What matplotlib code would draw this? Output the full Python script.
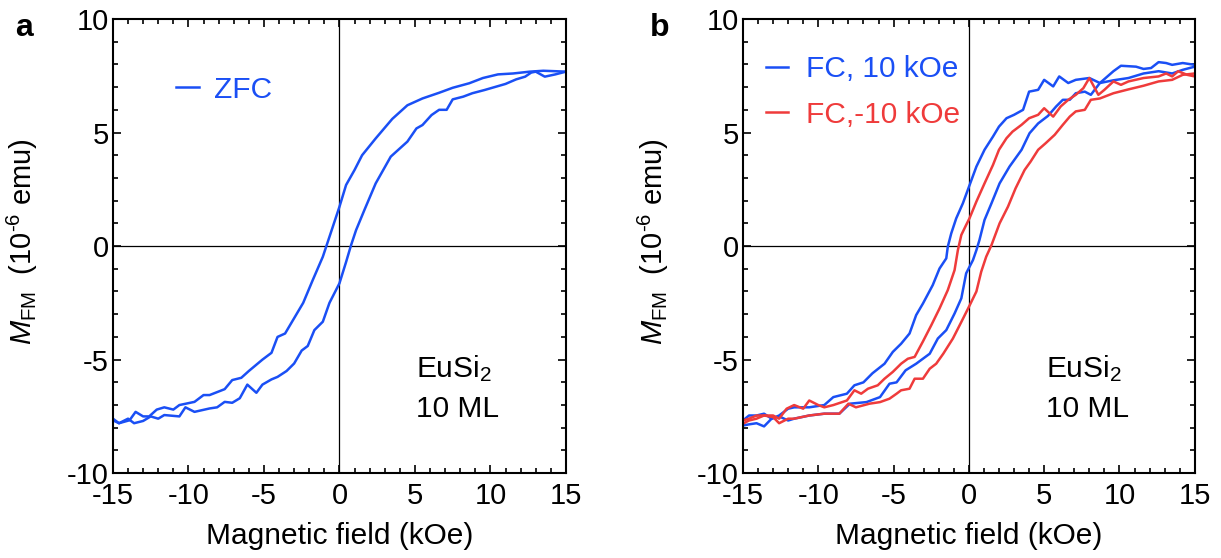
import matplotlib
matplotlib.use("Agg")
import matplotlib.pyplot as plt
from matplotlib.ticker import MultipleLocator

plt.rcParams["font.family"] = ["Liberation Sans", "DejaVu Sans"]
plt.rcParams["mathtext.fontset"] = "custom"
plt.rcParams["mathtext.rm"] = "Liberation Sans"
plt.rcParams["mathtext.it"] = "Liberation Sans:italic"
plt.rcParams["axes.unicode_minus"] = False

# ---- panel a: zero-field-cooled loop (field in kOe, moment in 1e-6 emu)
zfc_down_x = [-15, -14.6, -13.9, -13.5, -13.0, -12.6, -12.1, -11.6, -11.0, -10.6,
              -9.6, -9.0, -8.6, -7.6, -7.1, -6.5, -6.0, -5.1, -4.5, -4.1,
              -3.6, -3.2, -2.4, -1.77, -1.1, -0.88, -0.44, 0, 0.44, 1.0,
              1.5, 2.4, 3.5, 4.5, 5.5, 6.6, 7.5, 8.6, 9.5, 10.5,
              11.5, 12.6, 13.5, 14.3, 15]
zfc_down_m = [-7.67, -7.8, -7.67, -7.3, -7.5, -7.5, -7.2, -7.1, -7.2, -7.0,
              -6.86, -6.56, -6.56, -6.3, -5.9, -5.8, -5.5, -5.0, -4.7, -4.0,
              -3.85, -3.4, -2.5, -1.5, -0.47, -0.03, 0.85, 1.73, 2.69, 3.35,
              4.0, 4.74, 5.6, 6.2, 6.5, 6.75, 6.97, 7.17, 7.4, 7.56,
              7.6, 7.68, 7.72, 7.7, 7.68]
zfc_up_x = [-15, -14.6, -14.0, -13.6, -13.0, -12.5, -12.0, -11.6, -10.6, -10.2,
            -9.6, -8.6, -8.1, -7.6, -7.1, -6.6, -6.1, -5.5, -5.1, -4.5,
            -4.1, -3.5, -3.0, -2.5, -2.1, -1.66, -1.1, -0.66, 0, 0.44,
            0.77, 1.1, 1.66, 2.4, 3.4, 4.0, 4.5, 5.1, 5.5, 6.1,
            6.6, 7.1, 7.5, 8.2, 8.8, 9.6, 11.0, 11.7, 12.3, 12.7,
            13.0, 13.6, 14.3, 15]
zfc_up_m = [-7.6, -7.8, -7.6, -7.8, -7.7, -7.5, -7.6, -7.44, -7.5, -7.1,
            -7.3, -7.15, -7.1, -6.86, -6.9, -6.7, -6.1, -6.46, -6.1, -5.87,
            -5.76, -5.5, -5.17, -4.6, -4.4, -3.7, -3.33, -2.5, -1.64, -0.7,
            0.04, 0.7, 1.6, 2.76, 3.94, 4.3, 4.6, 5.18, 5.33, 5.77,
            6.0, 6.0, 6.46, 6.58, 6.73, 6.87, 7.14, 7.34, 7.46, 7.64,
            7.68, 7.46, 7.56, 7.68]

# ---- panel b: field-cooled in +10 kOe
fcp_down_x = [-15, -14.6, -14.1, -13.6, -13.1, -12.6, -12.0, -11.6, -10.6, -9.6,
              -9.0, -8.1, -7.6, -7.0, -6.4, -5.6, -5.05, -4.5, -3.94, -3.5,
              -3.05, -2.4, -1.95, -1.5, -1.4, -1.17, -0.84, -0.4, 0, 0.5,
              1.04, 1.6, 2.0, 2.5, 3.0, 3.6, 4.0, 4.6, 5.0, 5.6,
              6.0, 6.6, 7.1, 8.0, 8.7, 9.6, 10.1, 11.1, 11.6, 12.1,
              12.6, 13.1, 13.5, 14.2, 15]
fcp_down_m = [-7.68, -7.46, -7.46, -7.38, -7.6, -7.46, -7.16, -7.1, -7.1, -7.0,
              -6.65, -6.5, -6.13, -6.0, -5.6, -5.18, -4.66, -4.3, -3.85, -3.04,
              -2.53, -1.72, -0.99, -0.54, -0.03, 0.56, 1.22, 1.88, 2.6, 3.5,
              4.24, 4.82, 5.26, 5.63, 5.78, 6.0, 6.8, 6.88, 7.32, 7.03,
              7.47, 7.18, 7.32, 7.4, 7.18, 7.7, 7.94, 7.9, 7.8, 7.84,
              8.1, 8.06, 7.98, 8.06, 7.98]
fcp_up_x = [-15, -14.6, -14.1, -13.6, -13.1, -12.6, -12.0, -11.6, -10.6, -9.6,
            -8.6, -7.9, -6.8, -5.9, -5.27, -4.8, -4.2, -3.5, -2.6, -2.06,
            -1.5, -0.95, -0.5, -0.18, 0.27, 0.5, 0.7, 1.04, 1.5, 2.04,
            2.7, 3.5, 4.03, 4.6, 5.25, 5.8, 6.24, 6.7, 7.1, 7.7,
            8.1, 8.7, 9.6, 10.6, 11.6, 12.6, 13.5, 14.2, 15]
fcp_up_m = [-7.9, -7.85, -7.8, -7.94, -7.6, -7.5, -7.68, -7.6, -7.46, -7.38,
            -7.38, -6.94, -6.87, -6.65, -6.06, -6.0, -5.47, -5.18, -4.74, -4.07,
            -3.7, -2.97, -2.3, -1.2, -0.62, -0.18, 0.26, 1.15, 1.88, 2.76,
            3.5, 4.24, 4.97, 5.4, 5.73, 6.15, 6.44, 6.44, 6.73, 6.8,
            6.66, 7.18, 7.3, 7.4, 7.6, 7.7, 7.6, 7.76, 7.9]

# ---- panel b: field-cooled in -10 kOe
fcn_down_x = [-15, -14.6, -14.1, -13.6, -13.0, -12.6, -12.1, -11.6, -11.0, -10.6,
              -10.0, -9.6, -9.0, -8.1, -7.6, -7.15, -6.7, -6.05, -5.6, -5.05,
              -4.5, -4.05, -3.6, -3.05, -2.5, -1.95, -1.4, -0.95, -0.73, -0.5,
              -0.18, 0.04, 0.5, 1.04, 1.6, 2.0, 2.5, 2.9, 3.5, 4.0,
              4.6, 5.0, 5.6, 6.1, 6.6, 7.1, 7.6, 8.0, 8.6, 9.0,
              9.6, 10.1, 10.6, 11.6, 12.6, 13.1, 13.5, 13.9, 14.5, 15]
fcn_down_m = [-7.68, -7.6, -7.46, -7.46, -7.46, -7.6, -7.16, -7.0, -7.16, -6.8,
              -7.0, -7.1, -7.0, -6.8, -6.35, -6.5, -6.28, -6.13, -5.84, -5.54,
              -5.18, -4.96, -4.88, -4.2, -3.49, -2.75, -1.94, -1.06, -0.18, 0.49,
              0.93, 1.22, 1.96, 2.76, 3.57, 4.24, 4.75, 5.04, 5.34, 5.63,
              5.78, 6.07, 5.7, 6.15, 6.44, 6.66, 6.95, 7.4, 6.66, 6.88,
              7.25, 7.1, 7.25, 7.4, 7.47, 7.6, 7.47, 7.7, 7.54, 7.47]
fcn_up_x = [-15, -14.6, -14.1, -13.6, -13.0, -12.6, -12.0, -11.6, -10.6, -9.6,
            -8.6, -8.0, -7.5, -6.6, -5.9, -5.27, -4.8, -4.5, -3.94, -3.6,
            -3.05, -2.6, -2.17, -1.7, -1.06, -0.5, 0, 0.5, 0.82, 1.15,
            1.5, 2.04, 2.6, 3.1, 3.7, 4.1, 4.6, 5.1, 5.7, 6.24,
            6.7, 7.1, 7.7, 8.1, 8.7, 9.6, 10.6, 11.6, 12.6, 13.5,
            14.2, 15]
fcn_up_m = [-7.82, -7.68, -7.6, -7.46, -7.53, -7.8, -7.6, -7.6, -7.46, -7.38,
            -7.38, -6.94, -7.1, -6.94, -6.87, -6.72, -6.5, -6.35, -6.28, -5.84,
            -5.84, -5.4, -5.18, -4.74, -4.07, -3.34, -2.68, -2.0, -1.13, -0.47,
            0.04, 1.0, 1.74, 2.54, 3.35, 3.72, 4.24, 4.53, 4.9, 5.34,
            5.7, 5.93, 6.0, 6.44, 6.5, 6.73, 6.9, 7.06, 7.25, 7.32,
            7.54, 7.6]

BLUE = "#1a4ff5"
RED = "#ef3b3b"

###

def style_axes(ax):
    ax.set_xlim(-15, 15)
    ax.set_ylim(-10, 10)
    ax.xaxis.set_major_locator(MultipleLocator(5))
    ax.xaxis.set_minor_locator(MultipleLocator(1))
    ax.yaxis.set_major_locator(MultipleLocator(5))
    ax.yaxis.set_minor_locator(MultipleLocator(1))
    ax.tick_params(which="both", direction="in", top=True, right=True,
                   width=1.2, labelsize=21)
    ax.tick_params(which="major", length=6)
    ax.tick_params(axis="x", which="major", pad=6)
    ax.tick_params(axis="y", which="major", pad=3)
    ax.tick_params(which="minor", length=3.5)
    for s in ax.spines.values():
        s.set_linewidth(1.5)
    ax.axhline(0, color="black", lw=0.9, zorder=1)
    ax.axvline(0, color="black", lw=0.9, zorder=1)
    ax.set_xlabel("Magnetic field (kOe)", fontsize=21.5, labelpad=9)
  # hyphen (U+2010) rather than a math minus in the exponent
    ax.set_ylabel("$\\it{M}_{\\rm FM}$  (10$^{\\mathrm{\u20106}}$ emu)",
                  fontsize=21)
    ax.yaxis.set_label_coords(-0.16, 0.51)
    ax.text(0.67, 0.211, r"EuSi$_2$", transform=ax.transAxes,
            fontsize=21.5, va="baseline")
    ax.text(0.67, 0.123, "10 ML", transform=ax.transAxes,
            fontsize=21.5, va="baseline")

###

fig = plt.figure(figsize=(12.21, 5.58), dpi=100)
ax_a = fig.add_axes([0.0925, 0.152, 0.371, 0.814])
ax_b = fig.add_axes([0.6085, 0.152, 0.370, 0.814])

ax_a.plot(zfc_down_x, zfc_down_m, color=BLUE, lw=1.8, label="ZFC")
ax_a.plot(zfc_up_x, zfc_up_m, color=BLUE, lw=1.8)

ax_b.plot(fcp_down_x, fcp_down_m, color=BLUE, lw=1.8, label="FC, 10 kOe")
ax_b.plot(fcp_up_x, fcp_up_m, color=BLUE, lw=1.8)
ax_b.plot(fcn_down_x, fcn_down_m, color=RED, lw=1.8, label="FC,-10 kOe")
ax_b.plot(fcn_up_x, fcn_up_m, color=RED, lw=1.8)

for ax in (ax_a, ax_b):
    style_axes(ax)

ax_a.legend(loc="upper left", bbox_to_anchor=(0.14, 0.875), frameon=False,
            fontsize=21.5, handlelength=0.75, handletextpad=0.5, borderpad=0,
            borderaxespad=0, labelcolor="linecolor")
ax_b.legend(loc="upper left", bbox_to_anchor=(0.05, 0.92), frameon=False,
            fontsize=21.5, handlelength=0.75, handletextpad=0.6, borderpad=0,
            borderaxespad=0, labelspacing=0.58, labelcolor="linecolor")

fig.text(0.012, 0.935, "a", fontsize=23, fontweight="bold")
fig.text(0.532, 0.935, "b", fontsize=23, fontweight="bold")

fig.savefig("out.png", dpi=100)
